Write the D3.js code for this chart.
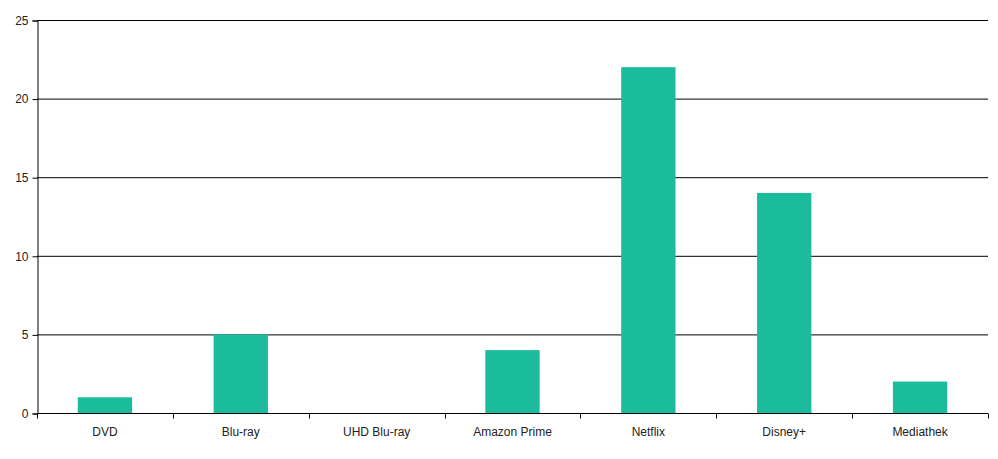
<!DOCTYPE html>
<html><head><meta charset="utf-8">
<script src="https://cdn.jsdelivr.net/npm/d3@7"></script>
<style>body{margin:0;background:#fff}text{font-family:"Liberation Sans",Arial,sans-serif;font-size:12px;fill:#222}</style>
</head><body><svg id="c" width="998" height="459"></svg>
<script>
const categories=["DVD","Blu-ray","UHD Blu-ray","Amazon Prime","Netflix","Disney+","Mediathek"];
const values=[1,5,0,4,22,14,2];
const yTicks=[0,5,10,15,20,25];
const svg=d3.select("#c");
const L=37,R=988,T=20,B=413;
const x=d3.scaleBand().domain(categories).range([L,R]);
const y=d3.scaleLinear().domain([0,25]).range([B,T]);
const g=svg.append("g");
g.selectAll("line.grid").data(yTicks).join("line").attr("x1",L).attr("x2",R)
 .attr("y1",d=>y(d)+0.5).attr("y2",d=>y(d)+0.5).attr("stroke","#000");
g.selectAll("rect").data(values).join("rect")
 .attr("x",(d,i)=>x(categories[i])+x.bandwidth()*0.3).attr("width",x.bandwidth()*0.4)
 .attr("y",d=>y(d)).attr("height",d=>B-y(d)).attr("fill","#1ABC9C");
const ya=svg.append("g").attr("transform",`translate(${L+0.5},0.5)`)
 .call(d3.axisLeft(y).tickValues(yTicks).tickSize(5).tickPadding(4));
ya.select(".domain").attr("stroke","#000");
ya.selectAll("text").style("font-size","12px");
const xa=svg.append("g").attr("transform",`translate(0,${B+0.5})`);
xa.append("line").attr("x1",L).attr("x2",R).attr("stroke","#000");
xa.selectAll("line.t").data(d3.range(categories.length+1)).join("line")
 .attr("x1",i=>Math.round(L+i*x.step())+0.5).attr("x2",i=>Math.round(L+i*x.step())+0.5)
 .attr("y1",0).attr("y2",5).attr("stroke","#000");
xa.selectAll("text").data(categories).join("text").attr("x",d=>x(d)+x.bandwidth()/2)
 .attr("y",22).attr("text-anchor","middle").text(d=>d);
</script></body></html>
